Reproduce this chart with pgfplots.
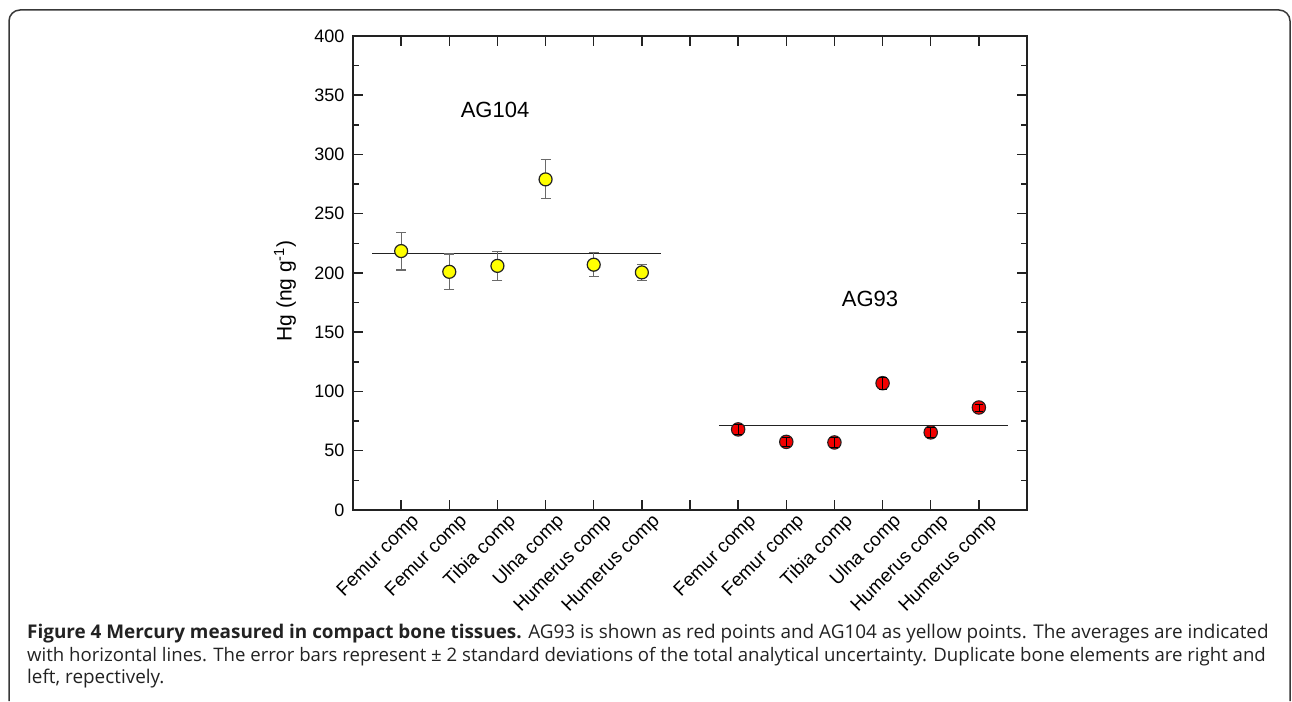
\documentclass[border=0pt]{standalone}
\usepackage{pgfplots}
\pgfplotsset{compat=1.18}
\usepackage{fontspec}
\setmainfont{Liberation Sans}
\newfontfamily\capfont{Open Sans}
\definecolor{axc}{HTML}{222222}
\definecolor{ptyellow}{HTML}{FFFF00}
\definecolor{ptred}{HTML}{F20000}
\definecolor{ebgray}{HTML}{6A6A6A}
\definecolor{captxt}{HTML}{222222}
\newcommand\xl[1]{{\fontsize{19}{19}\selectfont #1}}
\begin{document}
\begin{tikzpicture}
\useasboundingbox (0pt,0pt) rectangle (1292pt,701pt);
% frame
\draw[line width=1.5pt, color=axc!90, rounded corners=11pt] (9pt,0pt) -- (9pt,691pt) -- (1290pt,691pt) -- (1290pt,0pt);
\begin{axis}[
  at={(353pt,191pt)}, anchor=south west,
  scale only axis, width=674pt, height=474pt,
  xmin=0, xmax=14, ymin=0, ymax=400,
  xtick={1,2,3,4,5,6,7,8,9,10,11,12,13},
  xticklabels={\xl{Femur comp},\xl{Femur comp},\xl{Tibia comp},\xl{Ulna comp},\xl{Humerus comp},\xl{Humerus comp},{},\xl{Femur comp},\xl{Femur comp},\xl{Tibia comp},\xl{Ulna comp},\xl{Humerus comp},\xl{Humerus comp}},
  ytick={0,50,...,400},
  minor y tick num=1,
  tick align=inside,
  major tick length=10pt, minor tick length=6pt,
  every tick/.style={axc, line width=1.5pt},
  axis line style={axc, line width=2pt},
  /pgf/number format/assume math mode=true,
  yticklabel style={font=\fontsize{18}{18}\selectfont, xshift=-5pt},
  x tick label style={rotate=45, anchor=north east, inner sep=0pt, xshift=5pt, yshift=-8pt},
  ylabel={Hg (ng g\textsuperscript{-1})},
  ylabel style={font=\fontsize{21}{21}\selectfont, at={(axis description cs:-0.101,0.462)}, anchor=center},
  clip=false,
  clip marker paths=true,
]
% mean lines
\addplot[axc, line width=1.5pt, mark=none] coordinates {(0.4,216.6) (6.4,216.6)};
\addplot[axc, line width=1.5pt, mark=none] coordinates {(7.6,71.5) (13.6,71.5)};
% AG104 error bars
\addplot[draw=none, mark=none, error bars/.cd, y dir=both, y explicit,
  error bar style={draw=ebgray, solid, line width=1.1pt},
  error mark options={draw=ebgray, solid, rotate=90, mark size=5pt, line width=1.1pt}]
  coordinates {
  (1,218.5) +- (0,16)
  (2,201) +- (0,15)
  (3,206) +- (0,12)
  (4,279) +- (0,16.5)
  (5,207) +- (0,10)
  (6,200.5) +- (0,6.5)
  };
% AG104 points
\addplot[only marks, mark=*, mark size=6.5pt, mark options={fill=ptyellow, draw=axc, line width=1.2pt}]
  coordinates {(1,218.5) (2,201) (3,206) (4,279) (5,207) (6,200.5)};
% AG93 points
\addplot[only marks, mark=*, mark size=6.7pt, mark options={fill=ptred, draw=axc, line width=1.1pt}]
  coordinates {(8,68) (9,57.5) (10,57) (11,107) (12,65.5) (13,86.5)};
% AG93 error bars
\addplot[draw=none, mark=none, error bars/.cd, y dir=both, y explicit,
  error bar style={draw=black, solid, line width=0.7pt},
  error mark options={draw=black, solid, rotate=90, mark size=4pt, line width=0.7pt}]
  coordinates {
  (8,68) +- (0,4)
  (9,57.5) +- (0,4)
  (10,57) +- (0,4)
  (11,107) +- (0,5)
  (12,65.5) +- (0,4)
  (13,86.5) +- (0,3)
  };
\node[font=\fontsize{22}{22}\selectfont] at (axis cs:2.95,337.5) {AG104};
\node[font=\fontsize{22}{22}\selectfont] at (axis cs:10.74,178) {AG93};
\end{axis}
% caption
\begin{scope}[every node/.style={anchor=base west, inner sep=0pt, font=\capfont\fontsize{18.9}{18.9}\selectfont, text=captxt}]
\node at (27pt,63pt) {\textbf{Figure 4 Mercury measured in compact bone tissues.} AG93 is shown as red points and AG104 as yellow points. The averages are indicated};
\node at (27pt,40pt) {\fontsize{18.6}{18.6}\selectfont with horizontal lines. The error bars represent ± 2 standard deviations of the total analytical uncertainty. Duplicate bone elements are right and};
\node at (27pt,18pt) {left, repectively.};
\end{scope}
\end{tikzpicture}
\end{document}
